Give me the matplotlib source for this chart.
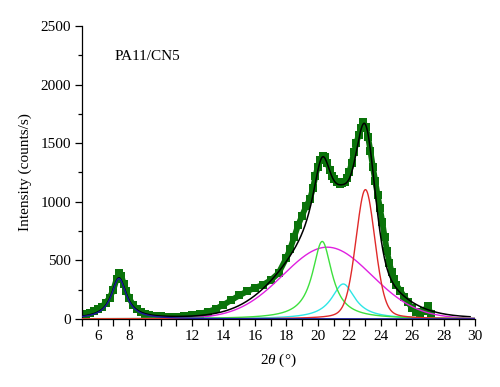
import numpy as np
import matplotlib
matplotlib.use("Agg")
import matplotlib.pyplot as plt
from matplotlib.ticker import MultipleLocator, FixedLocator, FixedFormatter

plt.rcParams['font.family'] = ['Liberation Serif', 'DejaVu Serif']
plt.rcParams['mathtext.fontset'] = 'custom'
plt.rcParams['mathtext.rm'] = 'Liberation Serif'
plt.rcParams['mathtext.it'] = 'Liberation Serif:italic'

obs_x = [5.0, 5.25, 5.5, 5.75, 6.0, 6.25, 6.5, 6.75, 7.0, 7.2, 7.35, 7.5, 7.65, 7.8,
         8.0, 8.25, 8.5, 8.75, 9.0, 9.25, 9.5, 9.75, 10.0, 10.5, 11.0, 11.5, 12.0,
         12.5, 13.0, 13.5, 14.0, 14.5, 15.0, 15.5, 16.0, 16.5, 17.0, 17.5, 18.0,
         18.25, 18.5, 18.75, 19.0, 19.25, 19.5, 19.7, 19.85, 20.0, 20.15, 20.3,
         20.45, 20.6, 20.75, 20.9, 21.05, 21.2, 21.4, 21.55, 21.7, 21.85, 22.0,
         22.15, 22.3, 22.45, 22.6, 22.75, 22.9, 23.05, 23.2, 23.35, 23.5, 23.65,
         23.8, 23.95, 24.1, 24.25, 24.4, 24.55, 24.7, 24.85, 25.0, 25.25, 25.5,
         25.75, 26.0, 26.25, 26.5, 26.75, 27.0, 27.2]
obs_y = [30, 40, 50, 65, 85, 105, 135, 180, 250, 340, 395, 370, 300, 240,
         175, 120, 85, 60, 45, 35, 28, 25, 22, 20, 20, 22, 30,
         45, 60, 85, 120, 160, 200, 235, 265, 290, 330, 390, 520,
         600, 700, 800, 880, 960, 1020, 1120, 1220, 1300, 1360, 1390,
         1385, 1330, 1270, 1220, 1190, 1170, 1150, 1160, 1170, 1200, 1250,
         1330, 1420, 1500, 1570, 1630, 1680, 1640, 1550, 1430, 1300, 1180,
         1060, 950, 830, 700, 580, 480, 400, 340, 290, 240, 190,
         140, 90, 60, 50, 70, 110, 40]

# Fitted peak components
peak_names = ['blue', 'green', 'cyan', 'red', 'magenta']
peak_centers = [7.35, 20.28, 21.62, 23.03, 20.6]
peak_heights = [345, 661, 298, 1103, 612]
peak_fwhm = [1.16, 1.5, 1.8, 1.45, 6.7]
peak_lorentz_frac = [1.0, 1.0, 1.0, 0.25, 0.05]
peak_colors = ['#1a1a9c', '#3ee03e', '#2ee6e6', '#e02a2a', '#e020e0']

xlim = (5, 30)
x_labels = ['6', '8', '', '12', '14', '16', '18', '20', '22', '24', '26', '28', '30']
x_label_pos = [6, 8, 10, 12, 14, 16, 18, 20, 22, 24, 26, 28, 30]


def pseudo_voigt(x, c, h, w, eta):
    g = np.exp(-4 * np.log(2) * ((x - c) / w) ** 2)
    l = 1.0 / (1 + ((x - c) / (w / 2)) ** 2)
    return h * (eta * l + (1 - eta) * g)


fig = plt.figure(figsize=(5.0, 3.87), dpi=100)
ax = fig.add_axes([0.164, 0.176, 0.786, 0.757])

xx = np.linspace(5, 30, 1200)
comps = [pseudo_voigt(xx, c, h, w, e) for c, h, w, e in
         zip(peak_centers, peak_heights, peak_fwhm, peak_lorentz_frac)]
total = np.sum(comps, axis=0)

ax.plot(obs_x, obs_y, color='#0a730a', lw=4.2, marker='s', ms=5.5,
        markeredgewidth=0, zorder=2)
mask = xx <= 29.7
ax.plot(xx[mask], total[mask], color='black', lw=1.1, zorder=3)
order = [4, 2, 1, 3, 0]
for i in order:
    ax.plot(xx, comps[i], color=peak_colors[i], lw=1.0, zorder=4)

ax.set_xlim(*xlim)
ax.set_ylim(0, 2500)
ax.xaxis.set_major_locator(FixedLocator(x_label_pos))
ax.xaxis.set_major_formatter(FixedFormatter(x_labels))
ax.xaxis.set_minor_locator(MultipleLocator(1))
ax.yaxis.set_major_locator(MultipleLocator(500))
ax.yaxis.set_minor_locator(MultipleLocator(250))

for s in ['top', 'right']:
    ax.spines[s].set_visible(False)
for s in ['left', 'bottom']:
    ax.spines[s].set_linewidth(0.9)
ax.tick_params(axis='both', which='major', direction='out', length=5, width=0.9,
               labelsize=11, pad=3)
ax.tick_params(axis='x', which='minor', direction='out', length=5, width=0.9)
ax.tick_params(axis='y', which='minor', direction='out', length=3, width=0.9)

ax.set_ylabel('Intensity (counts/s)', fontsize=11, labelpad=6)
ax.set_xlabel(r'2$\theta$ (°)', fontsize=11, labelpad=6)
ax.text(7.05, 2240, 'PA11/CN5', fontsize=11, va='center', ha='left')

fig.savefig('out.png', dpi=100)
